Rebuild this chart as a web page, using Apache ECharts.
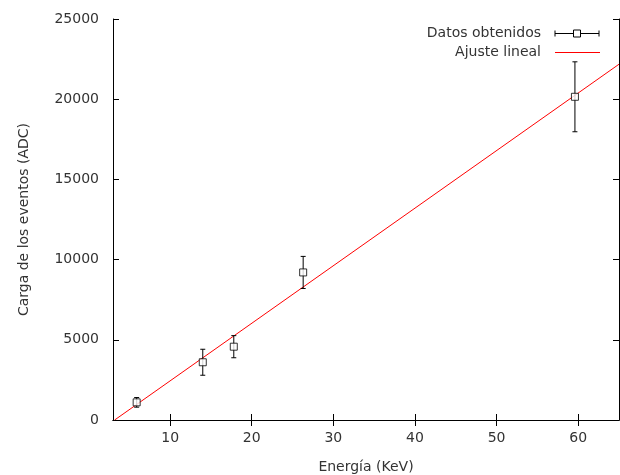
<!DOCTYPE html>
<html><head><meta charset="utf-8">
<script src="https://cdn.jsdelivr.net/npm/echarts@6/dist/echarts.min.js"></script>
<style>html,body{margin:0;padding:0;background:#fff}#c{width:620px;height:475px}</style>
</head><body><div id="c"></div>
<script>
// Data
const energy = [5.9, 14.0, 17.8, 26.3, 59.6];
const charge = [1100, 3600, 4570, 9200, 20150];
const chargeErr = [300, 810, 690, 1000, 2180];
const fitX = [3.2, 65];
const fitY = [0, 22180];
const xTicks = [10, 20, 30, 40, 50, 60];
const yTicks = [0, 5000, 10000, 15000, 20000, 25000];
const xTitle = 'Energía (KeV)';
const yTitle = 'Carga de los eventos (ADC)';
const legendNames = ['Datos obtenidos', 'Ajuste lineal'];

const FONT = 'DejaVu Sans';
const TXT = '#333';
const FS = 14;
const chart = echarts.init(document.getElementById('c'), null, {renderer: 'canvas'});

const pts = energy.map((x, i) => [x, charge[i]]);
const errData = energy.map((x, i) => [x, charge[i] - chargeErr[i], charge[i] + chargeErr[i]]);
const fitData = fitX.map((x, i) => [x, fitY[i]]);

const axisCommon = {
  type: 'value', min: 3, max: 65,
  axisLine: {show: true, lineStyle: {color: '#000', width: 1}},
  splitLine: {show: false}
};

chart.setOption({
  animation: false,
  grid: {left: 113, right: 1, top: 19, bottom: 55, containLabel: false, outerBoundsMode: 'none'},
  xAxis: [
    Object.assign({}, axisCommon, {
      position: 'bottom',
      name: xTitle, nameLocation: 'middle', nameGap: 40,
      nameTextStyle: {fontFamily: FONT, fontSize: FS, color: TXT},
      axisTick: {show: true, inside: true, length: 6, customValues: xTicks, lineStyle: {color: '#000'}},
      axisLabel: {show: true, customValues: xTicks, margin: 11, fontFamily: FONT, fontSize: FS, color: TXT}
    }),
    Object.assign({}, axisCommon, {
      position: 'top',
      axisTick: {show: true, inside: true, length: 6, customValues: xTicks, lineStyle: {color: '#000'}},
      axisLabel: {show: false}
    })
  ],
  yAxis: [
    {
      type: 'value', min: 0, max: 25000, interval: 5000, position: 'left',
      name: yTitle, nameLocation: 'middle', nameGap: 82, nameRotate: 90,
      nameTextStyle: {fontFamily: FONT, fontSize: FS, color: TXT},
      axisLine: {show: true, lineStyle: {color: '#000'}},
      axisTick: {show: true, inside: true, length: 6, lineStyle: {color: '#000'}},
      axisLabel: {margin: 14, fontFamily: FONT, fontSize: FS, color: TXT,
        customValues: yTicks, formatter: v => String(v)},
      splitLine: {show: false}
    },
    {
      type: 'value', min: 0, max: 25000, interval: 5000, position: 'right',
      axisLine: {show: true, lineStyle: {color: '#000'}},
      axisTick: {show: true, inside: true, length: 6, lineStyle: {color: '#000'}},
      axisLabel: {show: false},
      splitLine: {show: false}
    }
  ],
  series: [
    {
      name: legendNames[1], type: 'line', data: fitData, showSymbol: false,
      lineStyle: {color: '#ff0000', width: 1}, z: 2, silent: true
    },
    {
      name: legendNames[0] + ' err', type: 'custom', data: errData, z: 3,
      renderItem: function (params, api) {
        const x = api.value(0);
        const lo = api.coord([x, api.value(1)]);
        const hi = api.coord([x, api.value(2)]);
        const c = 2.5;
        const st = {stroke: '#000', lineWidth: 1, fill: null};
        return {type: 'group', children: [
          {type: 'line', shape: {x1: lo[0], y1: lo[1], x2: hi[0], y2: hi[1]}, style: st},
          {type: 'line', shape: {x1: lo[0] - c, y1: lo[1], x2: lo[0] + c, y2: lo[1]}, style: st},
          {type: 'line', shape: {x1: hi[0] - c, y1: hi[1], x2: hi[0] + c, y2: hi[1]}, style: st}
        ]};
      }
    },
    {
      name: legendNames[0], type: 'scatter', data: pts, symbol: 'rect', symbolSize: 7,
      itemStyle: {color: '#fff', borderColor: '#000', borderWidth: 1}, z: 4
    }
  ],
  graphic: [
    {type: 'text', x: 541, y: 33, style: {text: legendNames[0], font: '14px "DejaVu Sans"', fill: TXT, align: 'right', verticalAlign: 'middle'}},
    {type: 'text', x: 541, y: 52, style: {text: legendNames[1], font: '14px "DejaVu Sans"', fill: TXT, align: 'right', verticalAlign: 'middle'}},
    {type: 'group', x: 555, y: 33.5, children: [
      {type: 'line', shape: {x1: 0, y1: 0, x2: 44, y2: 0}, style: {stroke: '#000', lineWidth: 1}},
      {type: 'line', shape: {x1: 0, y1: -3, x2: 0, y2: 3}, style: {stroke: '#000', lineWidth: 1}},
      {type: 'line', shape: {x1: 44, y1: -3, x2: 44, y2: 3}, style: {stroke: '#000', lineWidth: 1}},
      {type: 'rect', shape: {x: 18.5, y: -3.5, width: 7, height: 7}, style: {stroke: '#000', fill: '#fff', lineWidth: 1}}
    ]},
    {type: 'line', shape: {x1: 555, y1: 52.5, x2: 600, y2: 52.5}, style: {stroke: '#ff0000', lineWidth: 1}}
  ]
});
</script></body></html>
